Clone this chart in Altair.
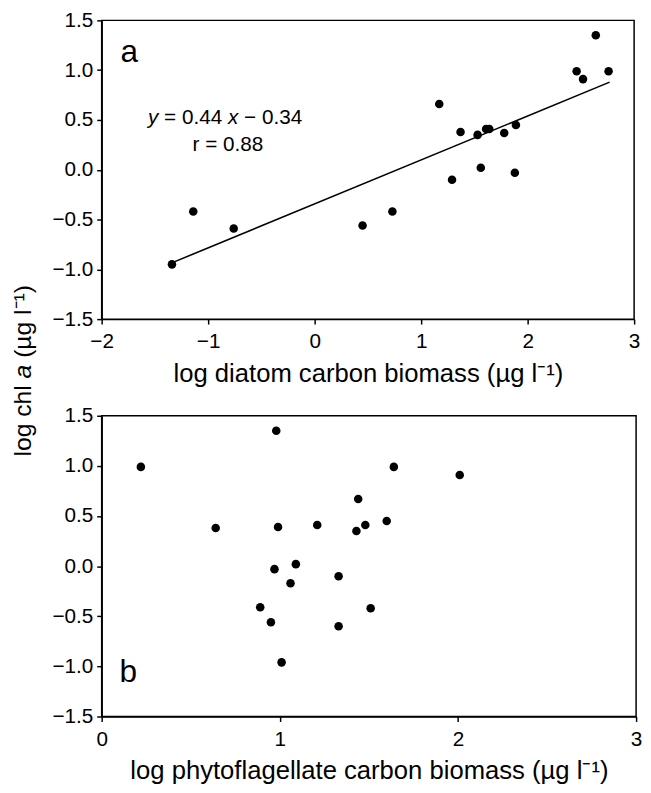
import altair as alt
import pandas as pd

# ---- data ----
# panel a: diatom carbon biomass vs chl a
diatom_x = [-1.34, -1.14, -0.76, 0.45, 0.73, 1.17, 1.29, 1.37, 1.53, 1.56,
            1.61, 1.64, 1.78, 1.88, 1.89, 2.46, 2.52, 2.64, 2.76]
diatom_chl = [-0.95, -0.42, -0.59, -0.56, -0.42, 0.66, -0.10, 0.38, 0.35, 0.02,
              0.41, 0.41, 0.37, -0.03, 0.45, 0.99, 0.91, 1.35, 0.99]
# regression line end points
fit_x = [-1.33, 2.77]
fit_y = [-0.93, 0.88]

# panel b: phytoflagellate carbon biomass vs chl a
phyto_x = [0.22, 0.98, 0.64, 0.99, 1.21, 1.44, 1.43, 1.48, 1.60, 0.97,
           1.09, 1.06, 1.33, 0.89, 0.95, 1.33, 1.51, 1.01, 1.64, 2.01]
phyto_chl = [0.99, 1.35, 0.38, 0.39, 0.41, 0.67, 0.35, 0.41, 0.45, -0.03,
             0.02, -0.17, -0.10, -0.41, -0.56, -0.60, -0.42, -0.96, 0.99, 0.91]

x_ticks_a = [-2, -1, 0, 1, 2, 3]
x_ticks_b = [0, 1, 2, 3]
y_ticks = [-1.5, -1.0, -0.5, 0.0, 0.5, 1.0, 1.5]

FONT = "Liberation Sans"
LAB = 21
TIT = 26
YTIT = 25

df_a = pd.DataFrame({"x": diatom_x, "y": diatom_chl})
df_fit = pd.DataFrame({"x": fit_x, "y": fit_y})
df_b = pd.DataFrame({"x": phyto_x, "y": phyto_chl})


def one(t):
    return pd.DataFrame({"t": [t]})


def yaxis():
    return alt.Axis(values=y_ticks, format=".1f", title=None, grid=False)


xa = alt.X("x:Q", scale=alt.Scale(domain=[-2, 3], nice=False, zero=False),
           axis=alt.Axis(values=x_ticks_a, format="d", grid=False,
                         title="log diatom carbon biomass (µg l⁻¹)"))
ya = alt.Y("y:Q", scale=alt.Scale(domain=[-1.5, 1.5], nice=False, zero=False), axis=yaxis())

pts_a = alt.Chart(df_a).mark_circle(size=75, color="black", opacity=1).encode(x=xa, y=ya)
line_a = alt.Chart(df_fit).mark_line(color="black", strokeWidth=1.6).encode(x=xa, y=ya)


def txt(t, x, y, size, align="left", style="normal", angle=0, baseline="alphabetic"):
    kw = dict(font=FONT, fontSize=size, align=align, baseline=baseline,
              color="black", fontStyle=style)
    if angle:
        kw["angle"] = angle
    return alt.Chart(one(t)).mark_text(**kw).encode(
        x=alt.value(x), y=alt.value(y), text="t:N")


x0 = 47
eq = [
    txt("y", x0, 105, 21, style="italic"),
    txt("= 0.44", x0 + 16.3, 105, 21),
    txt("x", x0 + 81.1, 105, 21, style="italic"),
    txt("− 0.34", x0 + 97.4, 105, 21),
    txt("r = 0.88", 128, 132, 21, align="center"),
    txt("a", 19, 42, 32),
]

# rotated y title shared by both panels, with italic "a"
C = 355
TX = -80
s = YTIT / 25.0
ytitle = [
    txt("log chl", TX, C + 87.3 * s, YTIT, angle=270, baseline="middle"),
    txt("a", TX, C + (87.3 - 72.25 - 6.95) * s, YTIT, angle=270, baseline="middle", style="italic"),
    txt("(µg l⁻¹)", TX, C + (87.3 - 72.25 - 6.95 - 13.9 - 6.95) * s, YTIT, angle=270, baseline="middle"),
]

panel_a = alt.layer(line_a, pts_a, *eq, *ytitle).properties(width=540, height=303)

xb = alt.X("x:Q", scale=alt.Scale(domain=[0, 3], nice=False, zero=False),
           axis=alt.Axis(values=x_ticks_b, format="d", grid=False,
                         title="log phytoflagellate carbon biomass (µg l⁻¹)"))
yb = alt.Y("y:Q", scale=alt.Scale(domain=[-1.5, 1.5], nice=False, zero=False), axis=yaxis())
pts_b = alt.Chart(df_b).mark_circle(size=75, color="black", opacity=1).encode(x=xb, y=yb)
panel_b = alt.layer(pts_b, txt("b", 18, 270, 32)).properties(width=542, height=305)

chart = alt.vconcat(panel_a, panel_b, spacing=98, bounds="flush").properties(
    padding={"left": 2, "top": -5, "right": 0, "bottom": 0},
    background="white",
).configure_view(
    stroke="black", strokeWidth=1.5
).configure_axis(
    domainColor="black", domainWidth=1.5, tickColor="black", tickWidth=1.5,
    tickSize=5, labelColor="black", labelFont=FONT, labelFontSize=LAB,
    labelPadding=4, titleFont=FONT, titleFontSize=TIT, titleFontWeight="normal",
    titleColor="black", titlePadding=9, labelFlush=False, labelOverlap=False
).configure_axisX(labelPadding=7)

chart.save("out.html", embed_options={"renderer": "svg", "actions": False})
